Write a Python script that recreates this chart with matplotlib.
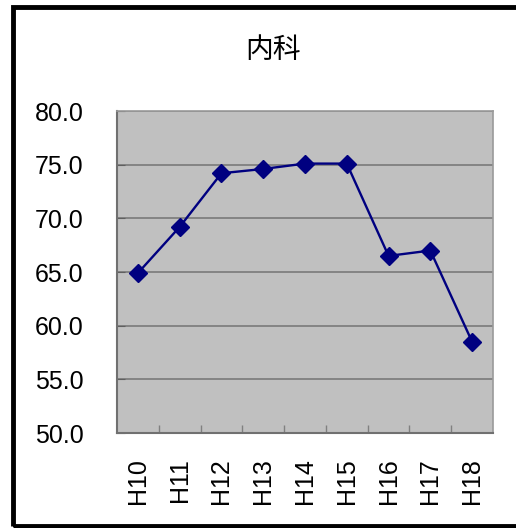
import matplotlib
matplotlib.use("Agg")
import matplotlib.pyplot as plt
from matplotlib.patches import Rectangle

plt.rcParams["font.family"] = ["Liberation Sans", "Noto Sans CJK JP"]

title = "内科"
years = ["H10", "H11", "H12", "H13", "H14", "H15", "H16", "H17", "H18"]
values = [64.9, 69.2, 74.2, 74.6, 75.1, 75.1, 66.5, 67.0, 58.5]
yticks = [50.0, 55.0, 60.0, 65.0, 70.0, 75.0, 80.0]

fig = plt.figure(figsize=(5.16, 5.28), dpi=100)
W, H = 516, 528

# outer frame (right edge is cut off in the original)
fig.patches.append(
    Rectangle((12.5 / W, 1 - 526 / H), 540 / W, (526 - 6.5) / H,
              transform=fig.transFigure, fill=False, edgecolor="black",
              linewidth=3.5, zorder=0)
)

ax = fig.add_axes([117 / W, 1 - 433 / H, (493 - 117) / W, (433 - 111) / H])
ax.set_facecolor("#c0c0c0")

x = range(len(years))
ax.plot(x, values, color="#000080", linewidth=1.7, marker="D", markersize=9.5,
        zorder=3)

ax.set_xlim(-0.5, len(years) - 0.5)
ax.set_ylim(50, 80)
ax.set_yticks(yticks)
ax.set_yticklabels([f"{v:.1f}" for v in yticks], fontsize=18)
ax.yaxis.grid(True, color="#7a7a7a", linewidth=1.2)
ax.set_axisbelow(True)

ax.set_xticks(list(x))
ax.set_xticklabels(years, rotation=90, fontsize=18)
ax.set_xticks([i + 0.5 for i in range(len(years) - 1)], minor=True)
ax.tick_params(axis="x", which="major", length=0, pad=18)
ax.tick_params(axis="x", which="minor", direction="in", length=6,
               color="#808080", width=1)
ax.tick_params(axis="y", direction="in", length=6, color="#606060", pad=24)

for side in ["left", "bottom"]:
    ax.spines[side].set_color("#707070")
    ax.spines[side].set_linewidth(1.5)
for side in ["top", "right"]:
    ax.spines[side].set_color("#9a9a9a")
    ax.spines[side].set_linewidth(1.2)

fig.text(273 / W, 1 - 50 / H, title, fontsize=20, ha="center", va="center",
         family=["Noto Sans CJK JP", "Liberation Sans"])

fig.savefig("out.png", dpi=100)
